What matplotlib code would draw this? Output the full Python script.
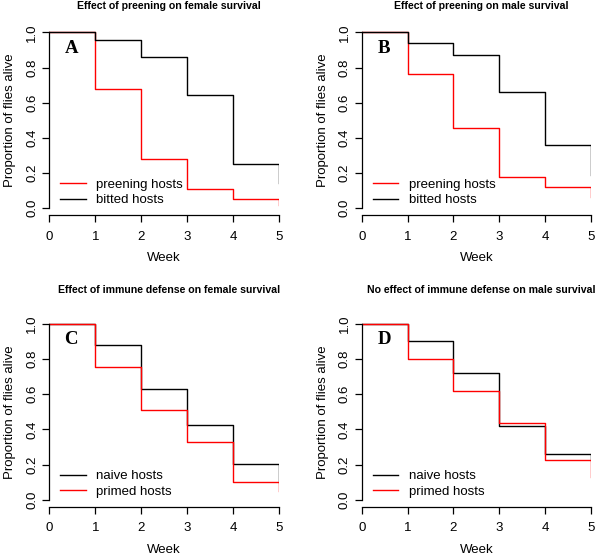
import matplotlib
matplotlib.use("Agg")
import matplotlib.pyplot as plt

plt.rcParams['font.family'] = ['Liberation Sans', 'DejaVu Sans']

weeks = [0, 1, 2, 3, 4, 5]

# Panel A: female, preening
a_preening = [1.0, 0.676, 0.282, 0.108, 0.053, 0.019]
a_bitted = [1.0, 0.956, 0.861, 0.644, 0.250, 0.142]
# Panel B: male, preening
b_preening = [1.0, 0.765, 0.458, 0.176, 0.121, 0.066]
b_bitted = [1.0, 0.941, 0.873, 0.663, 0.360, 0.189]
# Panel C: female, immune
c_naive = [1.0, 0.877, 0.628, 0.425, 0.204, 0.100]
c_primed = [1.0, 0.756, 0.510, 0.327, 0.100, 0.053]
# Panel D: male, immune
d_naive = [1.0, 0.904, 0.719, 0.420, 0.263, 0.225]
d_primed = [1.0, 0.798, 0.620, 0.437, 0.225, 0.132]

titles = ["Effect of preening on female survival",
          "Effect of preening on male survival",
          "Effect of immune defense on female survival",
          "No effect of immune defense on male survival"]
letters = ["A", "B", "C", "D"]
xticks = [0, 1, 2, 3, 4, 5]
yticks = [0.0, 0.2, 0.4, 0.6, 0.8, 1.0]
ytick_labels = ["0.0", "0.2", "0.4", "0.6", "0.8", "1.0"]

panels = [
    [("preening hosts", a_preening, "#ff0000"), ("bitted hosts", a_bitted, "black")],
    [("preening hosts", b_preening, "#ff0000"), ("bitted hosts", b_bitted, "black")],
    [("naive hosts", c_naive, "black"), ("primed hosts", c_primed, "#ff0000")],
    [("naive hosts", d_naive, "black"), ("primed hosts", d_primed, "#ff0000")],
]

W, H = 600, 557
fig = plt.figure(figsize=(W / 100, H / 100), dpi=100)

# axes rectangles in pixels: left, right, top(1.04), bottom(-0.04)
rects = [
    (49.3, 279.0, 25.3, 215.3),
    (362.0, 590.7, 25.3, 215.3),
    (49.3, 279.0, 316.6, 507.0),
    (362.0, 590.7, 316.6, 507.0),
]
title_pos = [(169, 6), (481, 6), (169, 290), (481, 290)]

fs = 9.5
for i, (rect, series) in enumerate(zip(rects, panels)):
    l, r, t, b = rect
    ax = fig.add_axes([l / W, (H - b) / H, (r - l) / W, (b - t) / H])
    for label, vals, col in series:
        ax.step(weeks, vals, where='post', color=col, lw=1.0, label=label)
    ax.set_xlim(0, 5)
    ax.set_ylim(-0.04, 1.04)
    for s in ['top', 'right']:
        ax.spines[s].set_visible(False)
    ax.spines['left'].set_bounds(0, 1)
    ax.spines['bottom'].set_bounds(0, 5)
    ax.spines['left'].set_linewidth(0.9)
    ax.spines['bottom'].set_linewidth(0.9)
    ax.set_xticks(xticks)
    ax.set_xticklabels([str(x) for x in xticks], fontsize=fs)
    ax.set_yticks(yticks)
    ax.set_yticklabels(ytick_labels, fontsize=fs, rotation=90, va='center')
    ax.tick_params(direction='out', length=5, width=0.9)
    ax.tick_params(axis='x', pad=6)
    ax.tick_params(axis='y', pad=3)
    ax.set_xlabel("Week", fontsize=fs, labelpad=7)
    ax.set_ylabel("Proportion of flies alive", fontsize=fs, labelpad=7)
    ax.text(0.48, 0.91, letters[i], fontsize=13.5, fontweight='bold',
            family=['Liberation Serif', 'DejaVu Serif'], ha='center', va='center')
    ax.legend(loc='lower left', bbox_to_anchor=(0.037, 0.034), frameon=False,
              fontsize=fs, handlelength=1.9, handletextpad=0.8,
              labelspacing=0.25, borderaxespad=0.0, borderpad=0.2)
    tx, ty = title_pos[i]
    fig.text(tx / W, 1 - ty / H, titles[i], fontsize=7.6, fontweight='bold',
             ha='center', va='center')

fig.savefig("out.png", dpi=100)
